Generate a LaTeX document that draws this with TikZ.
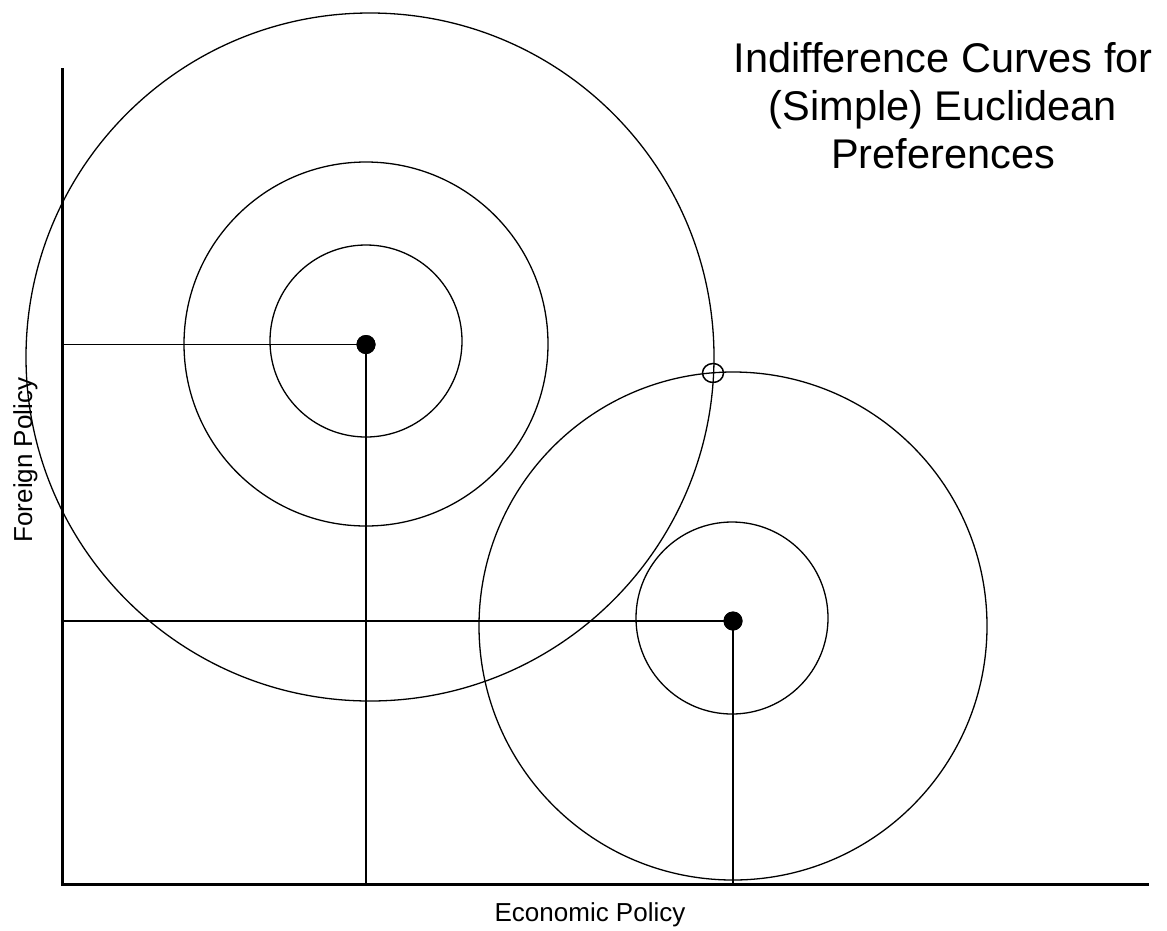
\documentclass[tikz,border=0pt]{standalone}
\usepackage{fontspec}
\setmainfont{Liberation Sans}
\usetikzlibrary{shapes.geometric}
\begin{document}
\begin{tikzpicture}[x=1pt,y=-1pt,
  curve/.style={line width=1.3pt,black},
  guide/.style={line width=1.3pt,black},
  axisline/.style={line width=3pt,black},
  dotnode/.style={circle,fill=black,inner sep=0pt,minimum size=19pt},
  ringnode/.style={ellipse,draw=black,line width=1.5pt,inner sep=0pt,minimum width=21pt,minimum height=19pt},
  axlabel/.style={font=\fontsize{26}{30}\selectfont},
  titleline/.style={font=\fontsize{41.5}{48}\selectfont,anchor=base}]
\useasboundingbox (0,0) rectangle (1167,930);
% circles
\draw[curve] (370,357) circle[radius=344];
\draw[curve] (366,344) circle[radius=182];
\draw[curve] (366,341) circle[radius=96];
\draw[curve] (733,626) circle[radius=254];
\draw[curve] (732,618) circle[radius=96];
% axes
\coordinate (ytop) at (62,69);
\coordinate (orig) at (62,884);
\coordinate (xend) at (1147,884);
\draw[axisline,line cap=rect] (ytop) -- (orig) -- (xend);
% ideal points
\coordinate (p1y) at (62,344.5);
\coordinate (p1x) at (366,884);
\coordinate (p2y) at (62,621);
\coordinate (p2x) at (733,884);
\node[dotnode] (p1) at (366,344.5) {};
\node[dotnode] (p2) at (733,621) {};
\draw[guide] (p1y) -- (p1.center) -- (p1x);
\draw[guide] (p2y) -- (p2.center) -- (p2x);
\node[dotnode] at (p1) {};
\node[dotnode] at (p2) {};
% intersection ring
\node[ringnode] (ring) at (713,373) {};
% labels
\node[axlabel,rotate=90,anchor=base] (ylab) at (32,460) {Foreign Policy};
\node[axlabel,anchor=base] (xlab) at (590,921) {Economic Policy};
\node[titleline] (t1) at (943,72) {Indifference Curves for};
\node[titleline] (t2) at (943,120) {(Simple) Euclidean};
\node[titleline] (t3) at (943,168) {Preferences};
\end{tikzpicture}
\end{document}
